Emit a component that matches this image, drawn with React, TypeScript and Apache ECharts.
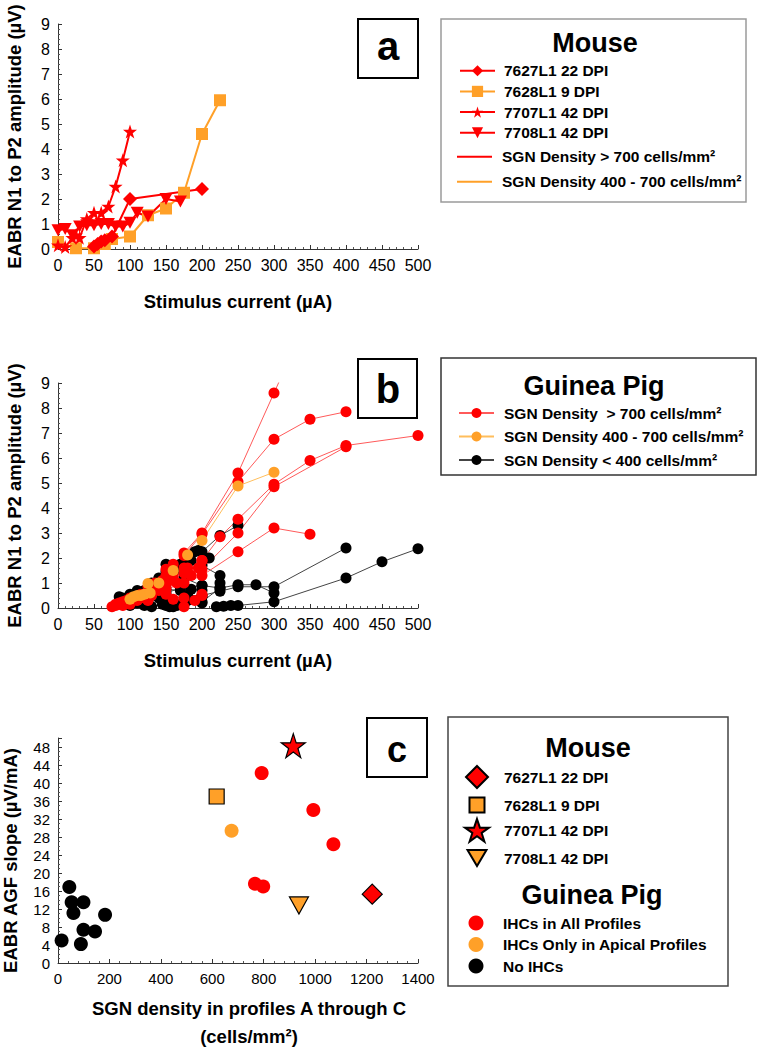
import React, { useEffect, useRef } from 'react';
import * as echarts from 'echarts';

const FONT = '"Liberation Sans", Arial, Helvetica, sans-serif';
const RED = '#FF0000';
const ORANGE = '#FFA028';
const BLACK = '#000000';

const STAR = 'path://M50,0L61.8,35.1L98.8,35.1L68.9,56.8L80.2,91.9L50,70.2L19.8,91.9L31.1,56.8L1.2,35.1L38.2,35.1Z';
const DOWN_TRI = 'path://M0,0L20,0L10,17Z';
const LINE_ICON = 'path://M0,0L35,0L35,2L0,2Z';

// ---------- Panel a: mouse amplitude growth functions ----------
const mouse7627 = [[50, 0.1], [55, 0.2], [60, 0.3], [65, 0.35], [75, 0.5], [100, 2.0], [200, 2.4]];
const mouse7628 = [[0, 0.28], [25, 0.03], [50, 0.03], [65, 0.2], [75, 0.4], [100, 0.5], [125, 1.35], [150, 1.62], [175, 2.25], [200, 4.6], [225, 5.95]];
const mouse7707 = [[0, 0.15], [10, 0.08], [20, 0.45], [25, 0.55], [30, 0.45], [40, 1.2], [50, 1.45], [60, 1.45], [70, 1.7], [80, 2.5], [90, 3.55], [100, 4.7]];
const mouse7708 = [[0, 0.75], [10, 0.8], [20, 0.55], [30, 0.9], [40, 0.95], [50, 0.95], [60, 1.0], [70, 1.0], [80, 0.9], [90, 0.9], [100, 1.05], [110, 1.45], [125, 1.3], [150, 2.0], [170, 1.9]];

// ---------- Panel b: guinea pig amplitude growth functions ----------
const gpHigh = [
  [[75, 0.05], [100, 0.3], [125, 0.7], [150, 1.3], [175, 2.2], [200, 3.0], [250, 5.4], [300, 8.6], [350, 11.8]],
  [[80, 0.1], [100, 0.4], [125, 0.85], [150, 1.55], [175, 2.1], [200, 2.95], [250, 5.05], [300, 6.75], [350, 7.55], [400, 7.85]],
  [[90, 0.1], [110, 0.3], [130, 0.6], [150, 1.0], [175, 1.6], [200, 1.9], [225, 2.85], [250, 3.55], [300, 4.95], [350, 5.9], [400, 6.5], [500, 6.9]],
  [[85, 0.2], [110, 0.4], [140, 0.8], [160, 1.3], [180, 1.6], [200, 1.55], [250, 3.0], [300, 4.85], [400, 6.45]],
  [[95, 0.2], [120, 0.4], [150, 0.75], [175, 1.0], [200, 1.3], [250, 2.25], [300, 3.2], [350, 2.95]],
  [[80, 0.15], [100, 0.35], [125, 0.6], [150, 0.9], [175, 1.4], [200, 1.9]],
  [[90, 0.25], [120, 0.45], [140, 0.7], [160, 0.35], [175, 0.05], [200, 0.5]],
  [[100, 0.15], [125, 0.3], [150, 0.55], [175, 0.4], [190, 0.3], [200, 0.55]],
  [[95, 0.3], [115, 0.55], [135, 1.0], [155, 1.1], [165, 1.0], [185, 1.3]],
  [[105, 0.35], [130, 0.5], [145, 1.1], [160, 1.75], [180, 1.4], [195, 1.6]],
];
const gpMid = [
  [[125, 0.98], [140, 1.0], [160, 1.5], [180, 2.12], [200, 2.7], [250, 4.88], [300, 5.43]],
  [[100, 0.35], [105, 0.45], [110, 0.5], [115, 0.5], [120, 0.55], [128, 0.6]],
];
const gpLow = [
  [[90, 0.4], [110, 0.7], [130, 1.0], [150, 1.45], [170, 1.75], [190, 2.25], [200, 2.25], [225, 2.9], [250, 3.3]],
  [[95, 0.3], [120, 0.6], [140, 1.0], [160, 1.4], [180, 1.9], [195, 2.3], [210, 2.0]],
  [[100, 0.3], [130, 0.8], [160, 1.5], [185, 1.9], [200, 1.7], [225, 1.3], [225, 1.0]],
  [[110, 0.2], [140, 0.5], [170, 0.8], [200, 0.9], [225, 0.8], [250, 0.93], [275, 0.93], [300, 0.6]],
  [[120, 0.1], [150, 0.3], [180, 0.5], [200, 0.5], [225, 0.67], [250, 0.85], [300, 0.85], [400, 2.4]],
  [[220, 0.05], [230, 0.07], [240, 0.1], [250, 0.1], [300, 0.25], [400, 1.2], [450, 1.85], [500, 2.37]],
  [[85, 0.45], [100, 0.55], [120, 0.7], [140, 0.4], [150, 0.1], [160, 0.05], [175, 0.2], [200, 0.2]],
  [[100, 0.1], [125, 0.3], [140, 1.2], [150, 1.75], [165, 1.7], [175, 1.2], [200, 0.9]],
  [[90, 0.35], [110, 0.5], [130, 0.9], [150, 0.75], [170, 0.7], [185, 0.75], [200, 0.7]],
  [[140, 0.6], [150, 0.6], [160, 0.3], [175, 0.15], [200, 0.25], [225, 0.8]],
  [[130, 0.05], [145, 0.15], [155, 0.05], [165, 0.1], [180, 0.3], [200, 0.45]],
];

// ---------- Panel c: AGF slope vs SGN density ----------
const slope7627 = [[1222, 15.3]];
const slope7628 = [[617, 37.0]];
const slope7707 = [[915, 48.3]];
const slope7708 = [[937, 12.8]];
const slopeAllIHC = [[792, 42.2], [993, 34.0], [1071, 26.4], [766, 17.6], [798, 17.0]];
const slopeApicalIHC = [[675, 29.4]];
const slopeNoIHC = [[44, 16.9], [53, 13.5], [60, 11.1], [99, 13.5], [183, 10.7], [99, 7.4], [144, 7.0], [89, 4.2], [14, 5.0]];

// tick settings
const ampTicks = { min: 0, max: 9, interval: 1 };
const currentTicks = { min: 0, max: 500, interval: 50 };
const densityTicks = { min: 0, max: 1400, interval: 200 };
const slopeTicks = { min: 0, max: 50, interval: 4 };

const stripPrefix = (n: string) => n.slice(2);
const plainNum = (v: number) => String(v);

const axisCommon = (fs: number, minorSplit: number) => ({
  type: 'value',
  axisLine: { show: true, onZero: false, lineStyle: { color: '#333', width: 1 } },
  axisTick: { show: true, inside: true, length: 4, lineStyle: { color: '#333', width: 1 } },
  minorTick: { show: true, splitNumber: minorSplit, length: 2, lineStyle: { color: '#555', width: 1 } },
  splitLine: { show: false },
  minorSplitLine: { show: false },
  axisLabel: { color: '#000', fontSize: fs, fontFamily: FONT, margin: 8, formatter: plainNum },
  nameLocation: 'middle',
  nameMoveOverlap: false,
  nameTextStyle: { color: '#000', fontSize: 18.5, fontWeight: 'bold', fontFamily: FONT, lineHeight: 22 },
});

const legendText = (padLeft: number, lh: number) => ({
  fontSize: 15.5, fontWeight: 'bold', fontFamily: FONT, color: '#000', padding: [0, 0, 0, padLeft], lineHeight: lh,
});

const legendBase = {
  orient: 'vertical', padding: 0, itemGap: 0, selectedMode: false, formatter: stripPrefix,
};

function buildOption() {
  const A = {
    m27: 'a:7627L1 22 DPI', m28: 'a:7628L1 9 DPI', m07: 'a:7707L1 42 DPI', m08: 'a:7708L1 42 DPI',
    hi: 'a:SGN Density > 700 cells/mm²', mid: 'a:SGN Density 400 - 700 cells/mm²',
  };
  const B = {
    hi: 'b:SGN Density  > 700 cells/mm²', mid: 'b:SGN Density 400 - 700 cells/mm²', lo: 'b:SGN Density < 400 cells/mm²',
  };
  const C = {
    m27: 'c:7627L1 22 DPI', m28: 'c:7628L1 9 DPI', m07: 'c:7707L1 42 DPI', m08: 'c:7708L1 42 DPI',
    all: 'c:IHCs in All Profiles', api: 'c:IHCs Only in Apical Profiles', none: 'c:No IHCs',
  };

  const series: any[] = [];
  const aLine = (name: string, data: number[][], color: string, symbol: string, size: any) => ({
    type: 'line', name, xAxisIndex: 0, yAxisIndex: 0, data, symbol, symbolSize: size,
    lineStyle: { color, width: 2 }, itemStyle: { color, opacity: 1 }, z: 3,
  });
  series.push(aLine(A.m28, mouse7628, ORANGE, 'rect', 12));
  series.push(aLine(A.m08, mouse7708, RED, DOWN_TRI, [13, 12]));
  series.push(aLine(A.m27, mouse7627, RED, 'diamond', 14));
  series.push(aLine(A.m07, mouse7707, RED, STAR, 14));
  series.push({ type: 'line', name: A.hi, xAxisIndex: 0, yAxisIndex: 0, data: [], showSymbol: false, lineStyle: { color: RED, width: 1.5 }, itemStyle: { color: RED } });
  series.push({ type: 'line', name: A.mid, xAxisIndex: 0, yAxisIndex: 0, data: [], showSymbol: false, lineStyle: { color: ORANGE, width: 1.5 }, itemStyle: { color: ORANGE } });

  const bLine = (name: string, data: number[][], lineColor: string, dotColor: string) => ({
    type: 'line', name, xAxisIndex: 1, yAxisIndex: 1, data, symbol: 'circle', symbolSize: 11, clip: true,
    lineStyle: { color: lineColor, width: 1 }, itemStyle: { color: dotColor, opacity: 1 },
  });
  gpLow.forEach((d) => series.push(bLine(B.lo, d, '#444444', BLACK)));
  gpHigh.forEach((d) => series.push(bLine(B.hi, d, '#FF5A5A', RED)));
  gpMid.forEach((d) => series.push(bLine(B.mid, d, '#FFBE5C', ORANGE)));

  const cSc = (name: string, data: number[][], color: string, symbol: string, size: any, border: boolean) => ({
    type: 'scatter', name, xAxisIndex: 2, yAxisIndex: 2, data, symbol, symbolSize: size,
    itemStyle: border ? { color, opacity: 1, borderColor: '#000', borderWidth: 1.2 } : { color, opacity: 1 },
  });
  series.push(cSc(C.none, slopeNoIHC, BLACK, 'circle', 14, false));
  series.push(cSc(C.all, slopeAllIHC, RED, 'circle', 14, false));
  series.push(cSc(C.api, slopeApicalIHC, ORANGE, 'circle', 14, false));
  series.push(cSc(C.m27, slope7627, RED, 'diamond', 20, true));
  series.push(cSc(C.m28, slope7628, ORANGE, 'rect', 15, true));
  series.push(cSc(C.m07, slope7707, RED, STAR, 24, true));
  series.push(cSc(C.m08, slope7708, ORANGE, DOWN_TRI, [19, 17], true));

  const grids = [
    { left: 58, top: 24, width: 360, height: 225, outerBoundsMode: 'none', containLabel: false },
    { left: 58, top: 383, width: 360, height: 225, outerBoundsMode: 'none', containLabel: false },
    { left: 58, top: 738, width: 360, height: 225, outerBoundsMode: 'none', containLabel: false },
  ];

  const xAxis = [
    { ...axisCommon(16, 5), gridIndex: 0, ...currentTicks, name: 'Stimulus current (µA)', nameGap: 41 },
    { ...axisCommon(16, 5), gridIndex: 1, ...currentTicks, name: 'Stimulus current (µA)', nameGap: 41 },
    {
      ...axisCommon(15, 5), gridIndex: 2, ...densityTicks,
      name: 'SGN density in profiles A through C\n(cells/mm²)', nameGap: 31,
      nameTextStyle: { color: '#000', fontSize: 18.5, fontWeight: 'bold', fontFamily: FONT, lineHeight: 28, padding: [0, 0, 0, 22] },
    },
  ];
  const yAxis = [
    { ...axisCommon(16, 5), gridIndex: 0, ...ampTicks, name: 'EABR N1 to P2 amplitude (µV)', nameGap: 33 },
    { ...axisCommon(16, 5), gridIndex: 1, ...ampTicks, name: 'EABR N1 to P2 amplitude (µV)', nameGap: 33 },
    {
      ...axisCommon(15, 4), gridIndex: 2, ...slopeTicks, name: 'EABR AGF slope (µV/mA)', nameGap: 37,
      axisLabel: { color: '#000', fontSize: 15, fontFamily: FONT, margin: 8, showMaxLabel: false, formatter: plainNum },
      nameTextStyle: { color: '#000', fontSize: 18.5, fontWeight: 'bold', fontFamily: FONT, lineHeight: 22, padding: [0, 20, 0, 0] },
    },
  ];

  const legend = [
    { ...legendBase, left: 459, top: 60.4, itemWidth: 35, itemHeight: 14, data: [A.m27, A.m28, A.m07, A.m08], textStyle: legendText(4, 20.67) },
    { ...legendBase, left: 457, top: 144.2, itemWidth: 35, itemHeight: 14, data: [{ name: A.hi, icon: LINE_ICON }, { name: A.mid, icon: LINE_ICON }], textStyle: legendText(5, 25) },
    { ...legendBase, left: 458, top: 401.25, itemWidth: 35, itemHeight: 12.5, data: [B.hi, B.mid, B.lo], textStyle: legendText(5, 23.5) },
    { ...legendBase, left: 465, top: 765, itemWidth: 22, itemHeight: 22, data: [C.m27], textStyle: legendText(11, 22) },
    { ...legendBase, left: 468.5, top: 796.5, itemWidth: 15, itemHeight: 15, data: [C.m28], textStyle: legendText(14.5, 15) },
    { ...legendBase, left: 464, top: 818, itemWidth: 24, itemHeight: 24, data: [C.m07], textStyle: legendText(10, 24) },
    { ...legendBase, left: 466.5, top: 848.5, itemWidth: 19, itemHeight: 19, data: [C.m08], textStyle: legendText(12.5, 19) },
    { ...legendBase, left: 468.5, top: 912.25, itemWidth: 15, itemHeight: 15, data: [C.all, C.api, C.none], textStyle: legendText(14.5, 21.5) },
  ];

  const title = (text: string, x: number, y: number) => ({
    type: 'text', x, y, z: 5,
    style: { text, fill: '#000', fontSize: 27, fontWeight: 'bold', fontFamily: FONT, align: 'center', verticalAlign: 'middle' },
  });
  const letterBox = (ch: string, x: number, y: number, w: number, h: number, tx: number, ty: number, fs: number) => ([
    { type: 'rect', z: 20, shape: { x, y, width: w, height: h }, style: { fill: '#fff', stroke: '#000', lineWidth: 2 } },
    { type: 'text', z: 21, x: tx, y: ty, style: { text: ch, fill: '#000', fontSize: fs, fontWeight: 'bold', fontFamily: FONT, align: 'center', verticalAlign: 'middle' } },
  ]);
  const box = (x: number, y: number, w: number, h: number, stroke: string) => ({
    type: 'rect', z: 1, shape: { x, y, width: w, height: h }, style: { fill: 'none', stroke, lineWidth: 1.5 },
  });

  const graphic = {
    elements: [
      box(441, 19, 305, 183, '#9a9a9a'),
      box(441, 358, 315, 117, '#333333'),
      box(448, 717, 280, 269, '#444444'),
      title('Mouse', 595, 42.5),
      title('Guinea Pig', 594, 386),
      title('Mouse', 588, 748),
      title('Guinea Pig', 592, 895),
      ...letterBox('a', 358, 19, 60, 59, 388, 46, 40),
      ...letterBox('b', 358, 359, 59, 59, 388, 389, 40),
      ...letterBox('c', 367, 718, 60, 59, 397, 749, 36),
    ],
  };

  return {
    animation: false,
    backgroundColor: '#ffffff',
    textStyle: { fontFamily: FONT },
    grid: grids,
    xAxis,
    yAxis,
    legend,
    graphic,
    series,
  };
}

export default function App() {
  const ref = useRef<HTMLDivElement>(null);
  useEffect(() => {
    if (!ref.current) return;
    const chart = echarts.init(ref.current, null, { renderer: 'svg' });
    chart.setOption(buildOption() as any);
    return () => chart.dispose();
  }, []);
  return (
    <div
      ref={ref}
      style={{ position: 'absolute', left: 0, top: 0, width: 762, height: 1050, background: '#fff' }}
    />
  );
}
